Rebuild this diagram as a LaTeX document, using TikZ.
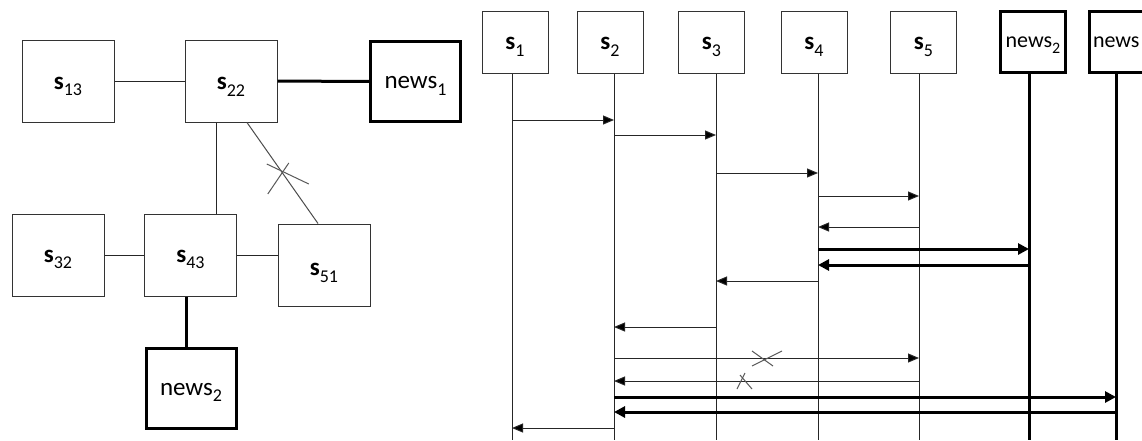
\documentclass[tikz,border=0pt]{standalone}
\usepackage{fontspec}
\setmainfont{Carlito}
\usetikzlibrary{arrows.meta,calc}
\newcommand\msgline[4]{\draw[#4] ($(#1)+(0,#3)$) -- ($(#2)+(0,#3)$);}
\newcommand\subx[1]{\raisebox{-6.5pt}{\fontsize{18}{20}\selectfont #1}}
\newcommand\subs[1]{\raisebox{-6pt}{\fontsize{16}{18}\selectfont #1}}
\newcommand\slab[1]{\textbf{s}\subx{#1}}
\newcommand\nlab[1]{news\subx{#1}}
\newcommand\nslab[1]{news\subs{#1}}
\begin{document}
\begin{tikzpicture}[x=1pt,y=-1pt,
  lab/.style={font=\fontsize{25}{28}\selectfont},
  box/.style={lab,draw=black!80,line width=1pt,inner sep=0pt,minimum width=92pt,minimum height=82pt},
  newsbox/.style={box,draw=black,line width=3pt,minimum width=90pt,minimum height=80pt},
  sbox/.style={lab,draw=black!80,line width=1pt,inner sep=0pt,minimum width=66pt,minimum height=62pt},
  nbox/.style={sbox,font=\fontsize{22}{26}\selectfont,draw=black,line width=3pt,minimum width=65pt,minimum height=61pt},
  tpos/.style={text height=#1,text depth=0pt},
  thinl/.style={draw=black!85,line width=1pt},
  thickl/.style={draw=black,line width=3pt},
  crossl/.style={draw=black!65,line width=1pt},
  msg/.style={thinl,-{Triangle[length=11pt,width=9pt,fill=black]}},
  tmsg/.style={thickl,-{Triangle[length=11pt,width=11pt]}},
  ]
\useasboundingbox (0,0) rectangle (1142,440);
\clip (0,0) rectangle (1142,440);
\fill[white] (0,0) rectangle (1142,440);

% ---------- left network ----------
\node[box,tpos=16.7pt] (s13) at (68,81) {\slab{13}};
\node[box,tpos=17.7pt] (s22) at (231,81) {\slab{22}};
\node[newsbox,tpos=14.7pt] (news1) at (415.5,81.5) {\nlab{1}};
\node[box,tpos=14.7pt] (s32) at (58,255) {\slab{32}};
\node[box,tpos=14.7pt] (s43) at (190.5,255) {\slab{43}};
\node[box,tpos=21.7pt] (s51) at (324,265) {\slab{51}};
\node[newsbox,tpos=14.7pt] (news2) at (191,388) {\nlab{2}};

\coordinate (v1) at (216,0);
\coordinate (v2) at (186,0);
\coordinate (d1) at (247,0);
\coordinate (d2) at (318,0);

\draw[thinl] (s13) -- (s22);
\draw[thickl] (s22) -- (news1);
\draw[thinl] (s22.south -| v1) -- (s43.north -| v1);
\draw[thinl,draw=black!70] (s22.south -| d1) -- coordinate[pos=0.49] (x1) (s51.north -| d2);
\draw[thinl] (s32) -- (s43);
\draw[thinl] (s43.east) -- (s43.east -| s51.west);
\draw[thickl] (s43.south -| v2) -- (news2.north -| v2);
\draw[crossl] ($(x1)+(-15,-8)$) -- ($(x1)+(27,12)$);
\draw[crossl] ($(x1)+(-14,22)$) -- ($(x1)+(7,-9)$);

% ---------- sequence ----------
\node[sbox,tpos=15.7pt] (p1) at (515,42) {\slab{1}};
\node[sbox,tpos=15.7pt] (p2) at (610,42) {\slab{2}};
\node[sbox,tpos=15.7pt] (p3) at (711.5,42) {\slab{3}};
\node[sbox,tpos=15.7pt] (p4) at (814,42) {\slab{4}};
\node[sbox,tpos=15.7pt] (p5) at (923.5,42) {\slab{5}};
\node[nbox,tpos=10.2pt] (n2) at (1033,42) {\nslab{2}};
\node[nbox,tpos=10.2pt,text width=58pt,align=left] (n1) at (1122,42) {news};

\coordinate (L1) at (512,0);
\coordinate (L2) at (614,0);
\coordinate (L3) at (716,0);
\coordinate (L4) at (818,0);
\coordinate (L5) at (919,0);
\coordinate (L6) at (1029,0);
\coordinate (L7) at (1116,0);

\draw[thinl] (p1.south -| L1) -- ($(L1)+(0,440)$);
\draw[thinl] (p2.south -| L2) -- ($(L2)+(0,440)$);
\draw[thinl] (p3.south -| L3) -- ($(L3)+(0,440)$);
\draw[thinl] (p4.south -| L4) -- ($(L4)+(0,440)$);
\draw[thinl] (p5.south -| L5) -- ($(L5)+(0,440)$);
\draw[thickl] (n2.south -| L6) -- ($(L6)+(0,440)$);
\draw[thickl] (n1.south -| L7) -- ($(L7)+(0,440)$);

\msgline{L1}{L2}{120}{msg}
\msgline{L2}{L3}{135}{msg}
\msgline{L3}{L4}{173}{msg}
\msgline{L4}{L5}{196}{msg}
\msgline{L5}{L4}{227}{msg}
\msgline{L4}{L6}{249}{tmsg}
\msgline{L6}{L4}{265}{tmsg}
\msgline{L4}{L3}{281}{msg}
\msgline{L3}{L2}{327}{msg}
\msgline{L2}{L5}{358}{msg}
\msgline{L5}{L2}{381}{msg}
\msgline{L2}{L7}{397}{tmsg}
\msgline{L7}{L2}{412}{tmsg}
\msgline{L2}{L1}{428}{msg}

\coordinate (x2) at (764,358);
\coordinate (x3) at (743,381);
\draw[crossl] ($(x2)+(-12,-7)$) -- ($(x2)+(9,8)$);
\draw[crossl] ($(x2)+(18,-7)$) -- ($(x2)+(-12,8)$);
\draw[crossl] ($(x3)+(-3,-6)$) -- ($(x3)+(9,8)$);
\draw[crossl] ($(x3)+(-6,8)$) -- ($(x3)+(2,-8)$);
\end{tikzpicture}
\end{document}
